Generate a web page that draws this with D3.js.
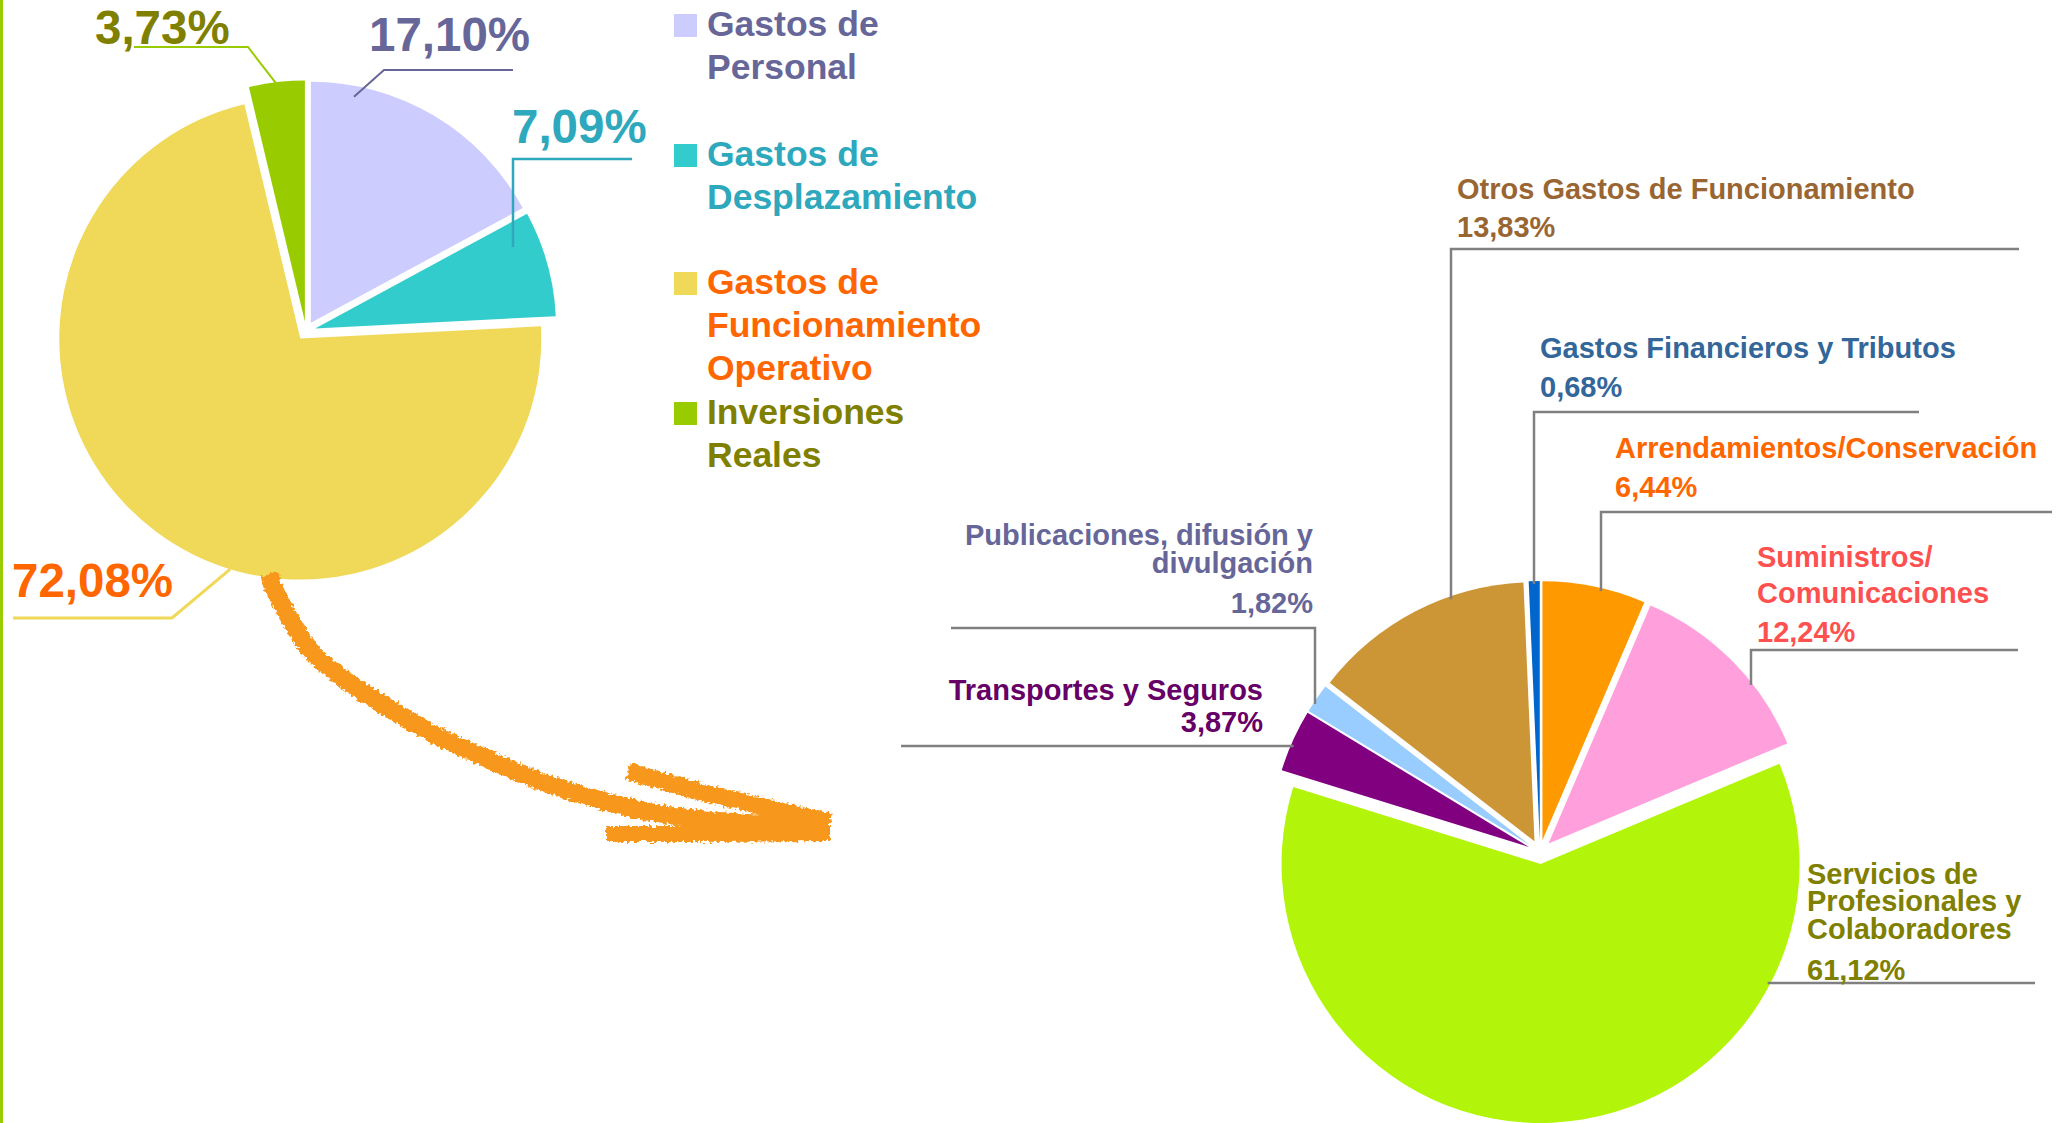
<!DOCTYPE html>
<html>
<head>
<meta charset="utf-8">
<script src="https://cdn.jsdelivr.net/npm/d3@7"></script>
<style>
  html, body { margin: 0; padding: 0; background: #ffffff; }
  svg { display: block; }
  text { font-family: "Liberation Sans", Arial, sans-serif; font-weight: bold; }
</style>
</head>
<body>
<script>
// ---------------- DATA ----------------
const leftCategories = ["Gastos de Personal", "Gastos de Desplazamiento", "Gastos de Funcionamiento Operativo", "Inversiones Reales"];
const leftValues = [17.10, 7.09, 72.08, 3.73];
const leftLegendLines = [["Gastos de", "Personal"], ["Gastos de", "Desplazamiento"], ["Gastos de", "Funcionamiento", "Operativo"], ["Inversiones", "Reales"]];

const rightCategories = ["Arrendamientos/Conservación", "Suministros/ Comunicaciones", "Servicios de Profesionales y Colaboradores", "Transportes y Seguros", "Publicaciones, difusión y divulgación", "Otros Gastos de Funcionamiento", "Gastos Financieros y Tributos"];
const rightValues = [6.44, 12.24, 61.12, 3.87, 1.82, 13.83, 0.68];
const rightLabelLines = [["Arrendamientos/Conservación"], ["Suministros/", "Comunicaciones"], ["Servicios de", "Profesionales y", "Colaboradores"], ["Transportes y Seguros"], ["Publicaciones, difusión y", "divulgación"], ["Otros Gastos de Funcionamiento"], ["Gastos Financieros y Tributos"]];

// ---------------- STYLES ----------------
const leftFill = ["#CCCCFF", "#33CCCC", "#F0D858", "#99CC00"];
const leftText = ["#666699", "#2DA8BC", "#FF6600", "#808000"];
const leftLeader = ["#666699", "#2DA8BC", "#F0D858", "#99CC00"];
const rightFill = ["#FF9900", "#FFA0DC", "#B3F50A", "#800080", "#99CCFF", "#CC9636", "#0066CC"];
const rightText = ["#FF6600", "#FF5050", "#808000", "#660066", "#666699", "#996633", "#336699"];

const W = 2067, H = 1123;
const fmt = v => d3.format(".2f")(v).replace(".", ",") + "%";

const svg = d3.select("body").append("svg").attr("width", W).attr("height", H);

const defs = svg.append("defs");
const filt = defs.append("filter").attr("id", "rough").attr("x", "-10%").attr("y", "-10%").attr("width", "120%").attr("height", "120%");
filt.append("feTurbulence").attr("type", "fractalNoise").attr("baseFrequency", "0.3").attr("numOctaves", 2).attr("seed", 3).attr("result", "n");
filt.append("feDisplacementMap").attr("in", "SourceGraphic").attr("in2", "n").attr("scale", 7).attr("xChannelSelector", "R").attr("yChannelSelector", "G");

// left border
svg.append("rect").attr("x", 0).attr("y", 0).attr("width", 3).attr("height", H).attr("fill", "#9ACD00");

function explode(a, d) {
  const m = (a.startAngle + a.endAngle) / 2;
  return [Math.sin(m) * d, -Math.cos(m) * d];
}

// ---------------- LEFT PIE ----------------
const CL = [306, 331], RL = 241, DL = 9.5;
const pieL = d3.pie().sort(null).value(d => d)(leftValues);
const arcL = d3.arc().innerRadius(0).outerRadius(RL);
const vertL = pieL.map(a => { const o = explode(a, DL); return [CL[0] + o[0], CL[1] + o[1]]; });

svg.append("g").selectAll("path").data(pieL).join("path")
  .attr("transform", (a, i) => `translate(${vertL[i][0]},${vertL[i][1]})`)
  .attr("d", arcL)
  .attr("fill", (a, i) => leftFill[i]);

function ptL(i, deg, rf) {
  const t = deg * Math.PI / 180;
  return [vertL[i][0] + Math.sin(t) * RL * rf, vertL[i][1] - Math.cos(t) * RL * rf];
}

// label layout for left pie
const leftLabelLayout = [
  { x: 369, y: 51, anchor: "start", pts: () => [ptL(0, 10.8, 0.955), [384, 70], [513, 70]], w: 2 },
  { x: 512, y: 143, anchor: "start", pts: () => [[513, 247], [513, 159], [632, 159]], w: 2.5 },
  { x: 12, y: 597, anchor: "start", pts: () => [ptL(2, 196.9, 1.0), [172, 618], [13, 618]], w: 3 },
  { x: 95, y: 44, anchor: "start", pts: () => [ptL(3, 353.3, 0.99), [248, 47], [134, 47]], w: 2 }
];
const line = d3.line();
leftLabelLayout.forEach((L, i) => {
  svg.append("path").attr("d", line(L.pts())).attr("fill", "none")
    .attr("stroke", leftLeader[i]).attr("stroke-width", L.w);
  svg.append("text").attr("x", L.x).attr("y", L.y).attr("text-anchor", L.anchor)
    .attr("font-size", 47.5).attr("fill", leftText[i]).text(fmt(leftValues[i]));
});

// legend
const legendTops = [14, 144, 272, 402];
leftLegendLines.forEach((lines, i) => {
  svg.append("rect").attr("x", 674).attr("y", legendTops[i]).attr("width", 23).attr("height", 23).attr("fill", leftFill[i]);
  const t = svg.append("text").attr("font-size", 35.5).attr("fill", leftText[i]);
  lines.forEach((s, j) => t.append("tspan").attr("x", 707).attr("y", legendTops[i] + 22 + j * 43).text(s));
});

// ---------------- ARROW ----------------
const arrow = svg.append("g").attr("filter", "url(#rough)").attr("fill", "none").attr("stroke", "#F7981D");
const shaftPts = [[268, 574], [285, 610], [310, 650], [345, 680], [385, 706], [437, 736], [490, 760], [545, 783], [600, 800], [650, 812], [720, 821], [830, 826]];
arrow.append("path").attr("d", d3.line().curve(d3.curveCatmullRom)(shaftPts)).attr("stroke-width", 18);
arrow.append("path").attr("d", line([[628, 771], [700, 792], [830, 822]])).attr("stroke-width", 17);
arrow.append("path").attr("d", line([[606, 834], [700, 834], [830, 833]])).attr("stroke-width", 16);

// ---------------- RIGHT PIE ----------------
const CR = [1540, 852], RR = 259, DR = 12;
const pieR = d3.pie().sort(null).value(d => d)(rightValues);
const arcR = d3.arc().innerRadius(0).outerRadius(RR);
const vertR = pieR.map(a => { const o = explode(a, DR); return [CR[0] + o[0], CR[1] + o[1]]; });

svg.append("g").selectAll("path").data(pieR).join("path")
  .attr("transform", (a, i) => `translate(${vertR[i][0]},${vertR[i][1]})`)
  .attr("d", arcR)
  .attr("fill", (a, i) => rightFill[i]);

// y on top arc for a vertical leader at x
const arcY = (i, x) => vertR[i][1] - Math.sqrt(RR * RR - (x - vertR[i][0]) ** 2) + 3;
// x on arc for a horizontal leader at y (side = +1 right, -1 left)
const arcX = (i, y, side) => vertR[i][0] + side * (Math.sqrt(RR * RR - (y - vertR[i][1]) ** 2) - 3);

const rightLayout = [
  { x: 1615, anchor: "start", base: [458], pct: 497, pts: i => [[1601, arcY(i, 1601)], [1601, 512], [2052, 512]] },
  { x: 1757, anchor: "start", base: [567, 603], pct: 642, pts: i => [[1751, arcY(i, 1751)], [1751, 650], [2018, 650]] },
  { x: 1807, anchor: "start", base: [884, 911, 939], pct: 980, pts: i => [[arcX(i, 983, 1), 983], [2035, 983]] },
  { x: 1263, anchor: "end", base: [700], pct: 732, pts: i => [[901, 746], [arcX(i, 746, -1), 746]] },
  { x: 1313, anchor: "end", base: [545, 573], pct: 613, pts: i => [[951, 628], [1315, 628], [1315, arcY(i, 1315)]] },
  { x: 1457, anchor: "start", base: [199], pct: 237, pts: i => [[1451, arcY(i, 1451)], [1451, 249], [2019, 249]] },
  { x: 1540, anchor: "start", base: [358], pct: 397, pts: i => [[1534, arcY(i, 1534)], [1534, 412], [1919, 412]] }
];

rightLayout.forEach((L, i) => {
  svg.append("path").attr("d", line(L.pts(i))).attr("fill", "none")
    .attr("stroke", "#808080").attr("stroke-width", 2.5);
  const t = svg.append("text").attr("font-size", 29).attr("fill", rightText[i]).attr("text-anchor", L.anchor);
  rightLabelLines[i].forEach((s, j) => t.append("tspan").attr("x", L.x).attr("y", L.base[j]).text(s));
  t.append("tspan").attr("x", L.x).attr("y", L.pct).text(fmt(rightValues[i]));
});
</script>
</body>
</html>
